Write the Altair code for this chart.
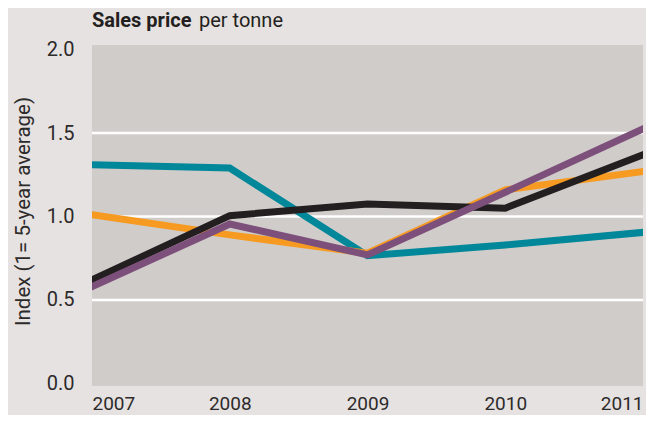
import altair as alt
import pandas as pd

# ---- data ----
years = [2007, 2008, 2009, 2010, 2011]
series_names = ["Series 1", "Series 2", "Series 3", "Series 4"]
series_colors = ["#00879a", "#f79a21", "#231f20", "#7d507b"]
teal_values = [1.31, 1.29, 0.765, 0.83, 0.905]
orange_values = [1.01, 0.89, 0.78, 1.16, 1.27]
black_values = [0.62, 1.005, 1.075, 1.05, 1.37]
purple_values = [0.58, 0.955, 0.77, 1.145, 1.525]
grid_values = [0.5, 1.0, 1.5]
y_ticks = [0.0, 0.5, 1.0, 1.5, 2.0]
title_bold = "Sales price"
title_rest = "per tonne"
y_title = "Index (1= 5-year average)"

all_values = [teal_values, orange_values, black_values, purple_values]
rows = []
for name, vals in zip(series_names, all_values):
    for yr, v in zip(years, vals):
        rows.append({"series": name, "year": yr, "value": v})
df = pd.DataFrame(rows)

FONT = "Roboto"
TXT = "#2d2a2a"

xscale = alt.Scale(domain=[2007, 2011], nice=False, zero=False)
yscale = alt.Scale(domain=[-0.015, 2.027], nice=False, zero=False)

xaxis = alt.Axis(values=years, format="d", title=None, labelFlush=True,
                 labelPadding=8, labelFontSize=19)
yaxis = alt.Axis(values=y_ticks, format=".1f", title=y_title, labelFlush=True,
                 labelPadding=18, labelFontSize=20,
                 titleFontSize=20.5, titleFontWeight="normal", titleAngle=270,
                 titleX=-63, titleY=166, titleAlign="center",
                 titleBaseline="alphabetic")

grid = alt.Chart(pd.DataFrame({"value": grid_values})).mark_rule(
    color="white", strokeWidth=2.5
).encode(
    y=alt.Y("value:Q", scale=yscale, axis=yaxis)
)

layers = [grid]
for name, col in zip(series_names, series_colors):
    layers.append(
        alt.Chart(df).transform_filter(alt.datum.series == name).mark_line(
            color=col, strokeWidth=7, strokeCap="square", strokeJoin="miter",
            clip=True
        ).encode(
            x=alt.X("year:Q", scale=xscale, axis=xaxis),
            y=alt.Y("value:Q", scale=yscale, axis=yaxis),
        )
    )

t1 = alt.Chart(pd.DataFrame({"t": [title_bold]})).mark_text(
    align="left", baseline="alphabetic", font=FONT, fontSize=20,
    fontWeight="bold", color="#231f20"
).encode(x=alt.value(0), y=alt.value(-18), text="t:N")

t2 = alt.Chart(pd.DataFrame({"t": [title_rest]})).mark_text(
    align="left", baseline="alphabetic", font=FONT, fontSize=20,
    fontWeight="normal", color="#231f20"
).encode(x=alt.value(107), y=alt.value(-18), text="t:N")

layers += [t1, t2]

chart = alt.layer(*layers).properties(
    width=551,
    height=341,
    autosize=alt.AutoSizeParams(type="none"),
    padding={"left": 84, "top": 37, "right": 3, "bottom": 29},
    background="#e6e2e1",
).configure_view(
    fill="#d0ccc9", strokeWidth=0
).configure_axis(
    domain=False, ticks=False, grid=False,
    labelFont=FONT, labelColor=TXT, titleFont=FONT, titleColor=TXT,
)

chart.save("out.html", embed_options={"renderer": "svg", "actions": False})
